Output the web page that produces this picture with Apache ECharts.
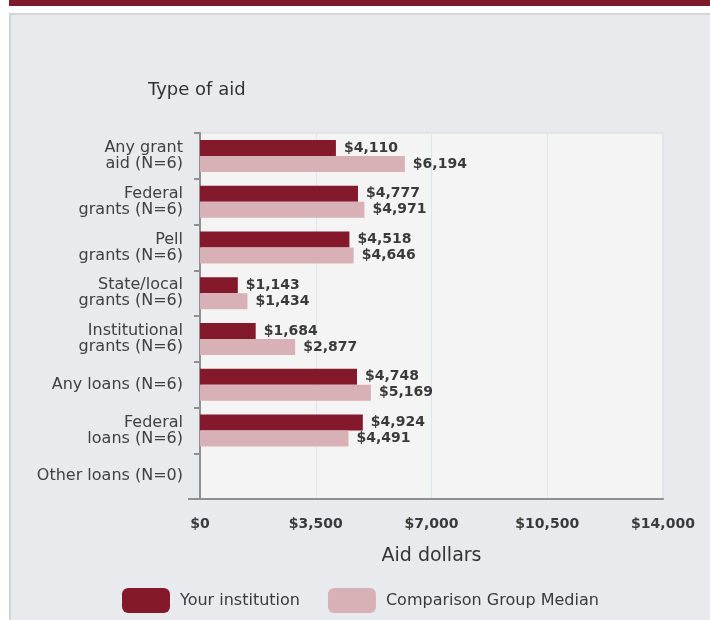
<!DOCTYPE html>
<html>
<head>
<meta charset="utf-8">
<script src="https://cdn.jsdelivr.net/npm/echarts@6/dist/echarts.min.js"></script>
<style>
  html, body { margin: 0; padding: 0; background: #ffffff; }
  #chart { width: 710px; height: 620px; }
</style>
</head>
<body>
<div id="chart"></div>
<script>
// categories (top to bottom)
var aidTypes = [
  'Any grant\naid (N=6)',
  'Federal\ngrants (N=6)',
  'Pell\ngrants (N=6)',
  'State/local\ngrants (N=6)',
  'Institutional\ngrants (N=6)',
  'Any loans (N=6)',
  'Federal\nloans (N=6)',
  'Other loans (N=0)'
]
var yourInstitution = [4110, 4777, 4518, 1143, 1684, 4748, 4924, null]
var comparisonMedian = [6194, 4971, 4646, 1434, 2877, 5169, 4491, null]
var seriesNames = ['Your institution', 'Comparison Group Median']
var xTicks = [0, 3500, 7000, 10500, 14000]

var FONT = '"DejaVu Sans", Arial, sans-serif'

function money(v) {
  return '$' + Number(v).toLocaleString('en-US')
}

var chart = echarts.init(document.getElementById('chart'))

var valueLabel = {
  show: true,
  position: 'right',
  distance: 8,
  fontFamily: FONT,
  fontSize: 14,
  fontWeight: 'bold',
  color: '#3a3a3a',
  formatter: function (p) { return money(p.value) }
}

var option = {
  backgroundColor: '#ffffff',
  animation: false,
  graphic: [
    // page panel
    {
      type: 'rect', z: -10, silent: true,
      shape: { x: 10, y: 14, width: 720, height: 640 },
      style: { fill: '#e9eaee', stroke: '#d4d4d6', lineWidth: 2 }
    },
    // top accent strip
    {
      type: 'rect', z: -9, silent: true,
      shape: { x: 9, y: 0, width: 701, height: 6 },
      style: { fill: '#7d1a2c' }
    },
    // axis line stub to the left of the y axis
    {
      type: 'line', z: 5, silent: true,
      shape: { x1: 188, y1: 499, x2: 200, y2: 499 },
      style: { stroke: '#8f8f95', lineWidth: 2 }
    }
  ],
  title: {
    text: 'Type of aid',
    left: 148,
    top: 81,
    padding: 0,
    textStyle: { fontFamily: FONT, fontSize: 18, fontWeight: 'normal', color: '#333' }
  },
  legend: {
    left: 122,
    top: 588,
    padding: 0,
    itemWidth: 48,
    itemHeight: 25,
    itemGap: 28,
    icon: 'roundRect',
    data: seriesNames,
    textStyle: { fontFamily: FONT, fontSize: 16, color: '#3a3a3a', padding: [0, 0, 0, 5] }
  },
  grid: {
    left: 200,
    top: 133,
    width: 463,
    height: 366,
    show: true,
    backgroundColor: '#f4f4f4',
    borderColor: '#d8d8d8',
    borderWidth: 1
  },
  xAxis: {
    type: 'value',
    min: xTicks[0],
    max: xTicks[xTicks.length - 1],
    interval: xTicks[1] - xTicks[0],
    name: 'Aid dollars',
    nameLocation: 'middle',
    nameGap: 48,
    nameTextStyle: { fontFamily: FONT, fontSize: 19, color: '#333' },
    axisLine: { show: true, lineStyle: { color: '#8f8f95', width: 2 } },
    axisTick: { show: false },
    splitLine: { show: true, lineStyle: { color: '#dfe5ef', width: 1 } },
    axisLabel: {
      margin: 18,
      fontFamily: FONT,
      fontSize: 14,
      fontWeight: 'bold',
      color: '#3a3a3a',
      formatter: money
    }
  },
  yAxis: {
    type: 'category',
    inverse: true,
    data: aidTypes,
    axisLine: { show: true, lineStyle: { color: '#8f8f95', width: 2 } },
    axisTick: { show: true, length: 6, lineStyle: { color: '#8f8f95', width: 2 } },
    splitLine: { show: false },
    axisLabel: {
      margin: 17,
      fontFamily: FONT,
      fontSize: 16,
      lineHeight: 16,
      color: '#404040',
      align: 'right'
    }
  },
  series: [
    {
      name: seriesNames[0],
      type: 'bar',
      data: yourInstitution,
      barWidth: 16,
      barGap: '0%',
      itemStyle: { color: '#84192c' },
      label: valueLabel
    },
    {
      name: seriesNames[1],
      type: 'bar',
      data: comparisonMedian,
      barWidth: 16,
      barGap: '0%',
      itemStyle: { color: '#d8b1b6' },
      label: valueLabel
    }
  ]
}

chart.setOption(option)
</script>
</body>
</html>
